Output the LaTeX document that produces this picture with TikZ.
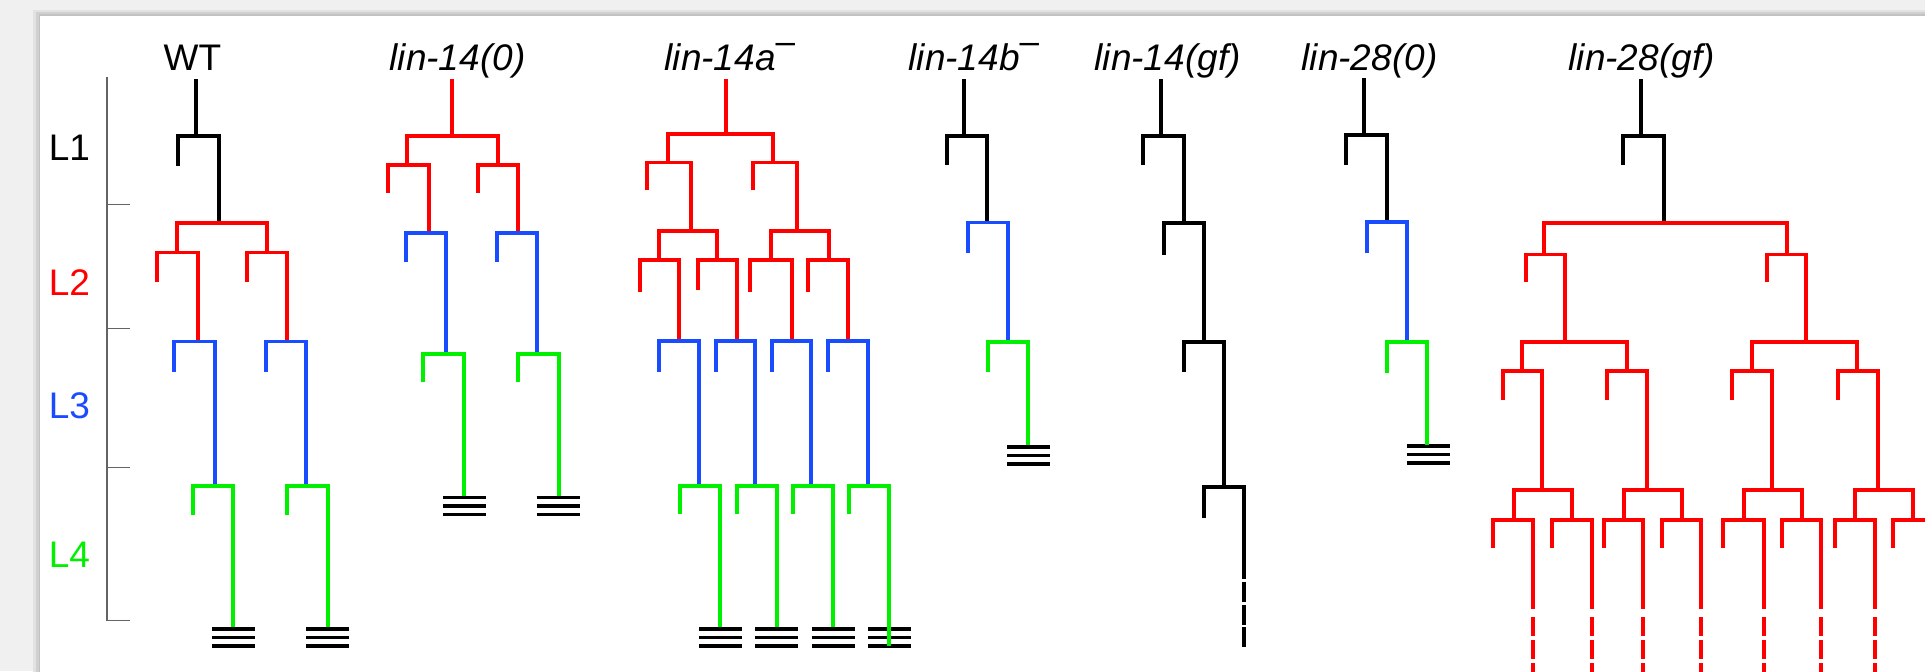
\documentclass[tikz,border=0pt]{standalone}
\usepackage{fontspec}
\setmainfont{Liberation Sans}
\definecolor{lred}{RGB}{255,0,0}
\definecolor{lblue}{RGB}{25,75,255}
\definecolor{lgreen}{RGB}{0,240,0}
\definecolor{bggray}{RGB}{240,240,240}
\definecolor{shA}{RGB}{226,226,226}
\definecolor{shB}{RGB}{208,208,208}
\definecolor{shC}{RGB}{194,194,194}
\definecolor{scalegray}{RGB}{100,100,100}
\newcommand\G[6]{\draw[#1] (#2,#5) -- (#2,#4) -- (#3,#4) -- (#3,#6);}
\newcommand\trip[2]{\foreach \d in {0,8.5,17} {\draw[endmark] (#1-21.5,#2+\d) -- (#1+21.5,#2+\d);}}
\newcommand\supminus{\raisebox{8.3pt}{\fontsize{17.5}{17.5}\selectfont\upshape –}}
\begin{document}
\begin{tikzpicture}[x=0.5pt,y=-0.5pt,line width=1.65pt,line join=miter,line cap=butt,
  bk/.style={draw=black}, rd/.style={draw=lred}, bl/.style={draw=lblue}, gr/.style={draw=lgreen},
  title/.style={anchor=base west,inner sep=0,font=\fontsize{18.5}{20}\selectfont\itshape},
  stage/.style={anchor=base,inner sep=0,font=\fontsize{18.5}{20}\selectfont},
  endmark/.style={draw=black,line width=1.75pt},
  contA/.style={dash pattern=on 10pt off 1.25pt},
  contB/.style={dash pattern=on 9.5pt off 2pt},
  scalebar/.style={draw=scalegray,line width=0.75pt}]
\useasboundingbox (0,0) rectangle (1925,671);
\clip (0,0) rectangle (1925,671);
% background and panel
\fill[bggray] (0,0) rectangle (1925,671);
\fill[shA] (33,10) rectangle (1935,690);
\fill[shB] (36,12) rectangle (1935,690);
\fill[shC] (38.5,14) rectangle (1935,690);
\fill[white] (40,16) rectangle (1935,690);
% time scale
\draw[scalebar] (107,77) -- (107,620.5) -- (130,620.5);
\foreach \t in {204.5,328.6,467.7} {\draw[scalebar] (107,\t) -- (130,\t);}
\node[stage] (l1) at (69.5,160.5) {L1};
\node[stage,text=lred] (l2) at (69.5,295) {L2};
\node[stage,text=lblue] (l3) at (69.5,418.5) {L3};
\node[stage,text=lgreen] (l4) at (69.5,567) {L4};
% titles
\node[stage,anchor=base west] (twt) at (162,70) {WT};
\node[title] (t1) at (388,70) {lin-14(0)};
\node[title] (t2) at (663,70) {lin-14a\supminus};
\node[title] (t3) at (907,70) {lin-14b\supminus};
\node[title] (t4) at (1093,70) {lin-14(gf)};
\node[title] (t5) at (1300,70) {lin-28(0)};
\node[title] (t6) at (1567,70) {lin-28(gf)};
% end marks
\trip{233.5}{629} \trip{327.5}{629}
\trip{464.5}{497.6} \trip{558}{497.6}
\trip{720.5}{629} \trip{776.5}{629} \trip{833}{629} \trip{889.5}{629}
\trip{1028.5}{447}
\trip{1428}{446}
% WT
\draw[bk] (196,79) -- (196,136);
\G{bk}{178}{219}{136}{166}{223}
\G{rd}{177}{267}{223}{252.5}{252.5}
\G{rd}{157}{198}{252.5}{281.5}{341.5}
\G{rd}{247}{287}{252.5}{281.5}{341.5}
\G{bl}{174}{215}{341.5}{372}{486}
\G{bl}{266}{306}{341.5}{372}{486}
\G{gr}{193}{233}{486}{515}{627}
\G{gr}{287}{328}{486}{515}{627}
% lin-14(0)
\draw[rd] (452,79) -- (452,136);
\G{rd}{407}{498}{136}{165}{165}
\G{rd}{388}{429}{165}{192.5}{233}
\G{rd}{478}{518}{165}{192.5}{233}
\G{bl}{406}{446}{233}{262}{354}
\G{bl}{497}{537}{233}{262}{354}
\G{gr}{423}{464}{354}{382}{496}
\G{gr}{518}{559}{354}{382}{496}
% lin-14a-
\draw[rd] (726,79) -- (726,134);
\G{rd}{668}{773}{134}{162.6}{162.6}
\G{rd}{647}{691}{162.6}{190}{231}
\G{rd}{753}{797}{162.6}{190}{231}
\G{rd}{659}{717}{231}{260}{260}
\G{rd}{771}{829}{231}{260}{260}
\G{rd}{640}{679}{260}{292}{341}
\G{rd}{698}{737}{260}{290}{341}
\G{rd}{750}{792}{260}{292}{341}
\G{rd}{808}{848}{260}{292}{341}
\G{bl}{659}{699}{341}{372}{486}
\G{bl}{716}{755}{341}{372}{486}
\G{bl}{772}{811}{341}{372}{486}
\G{bl}{828}{868}{341}{372}{486}
\G{gr}{680}{720}{486}{514}{627}
\G{gr}{737}{777}{486}{514}{627}
\G{gr}{793}{833}{486}{514}{627}
\G{gr}{849}{889}{486}{514}{646}
% lin-14b-
\draw[bk] (964,79) -- (964,136);
\G{bk}{947}{987}{136}{165}{222.5}
\G{bl}{968}{1008}{222.5}{252.5}{342}
\G{gr}{988}{1028}{342}{372}{445}
% lin-14(gf)
\draw[bk] (1161,79) -- (1161,136);
\G{bk}{1143}{1184}{136}{165}{223}
\G{bk}{1164}{1204}{223}{254.6}{342}
\G{bk}{1184}{1224}{342}{372}{487}
\G{bk}{1204}{1244}{487}{518}{579}
\draw[bk,contA] (1244,582) -- (1244,647);
% lin-28(0)
\draw[bk] (1364,78) -- (1364,135);
\G{bk}{1346}{1387}{135}{165}{222}
\G{bl}{1367}{1407}{222}{253}{342}
\G{gr}{1387}{1427}{342}{373}{445}
% lin-28(gf)
\draw[bk] (1641,79) -- (1641,136);
\G{bk}{1623}{1664}{136}{165}{223}
\G{rd}{1544}{1787}{223}{254.6}{254.6}
\G{rd}{1526}{1565}{254.6}{282}{342}
\G{rd}{1767}{1806}{254.6}{282}{342}
\G{rd}{1522}{1627}{342}{371}{371}
\G{rd}{1752}{1857}{342}{371}{371}
\G{rd}{1503}{1542}{371}{400}{490}
\G{rd}{1607}{1647}{371}{400}{490}
\G{rd}{1732}{1772}{371}{400}{490}
\G{rd}{1838}{1878}{371}{400}{490}
\G{rd}{1514}{1572}{490}{520}{520}
\G{rd}{1624}{1682}{490}{520}{520}
\G{rd}{1744}{1802}{490}{520}{520}
\G{rd}{1855}{1913}{490}{520}{520}
\foreach \a/\b in {1493/1533,1552/1592,1604/1643,1662/1701,1723/1764,1782/1821,1835/1875,1893/1933} {
  \G{rd}{\a}{\b}{520}{548}{609}
  \draw[rd,contB] (\b,617) -- (\b,690);
}
\end{tikzpicture}
\end{document}
